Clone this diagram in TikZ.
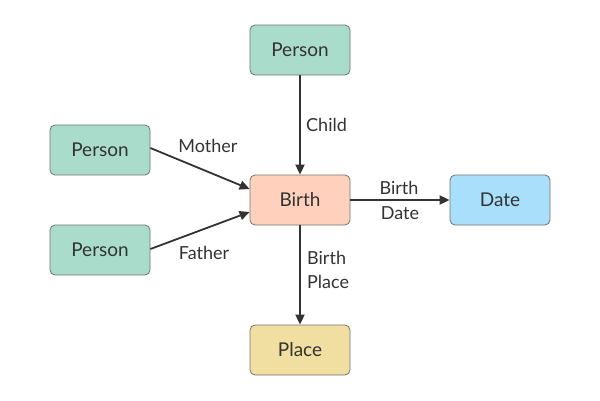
\documentclass[tikz,border=0pt]{standalone}
\usepackage{fontspec}
\setmainfont{Lato}
\usetikzlibrary{arrows.meta}
\definecolor{pgreen}{HTML}{AADCCB}
\definecolor{pbirth}{HTML}{FFD1BD}
\definecolor{pdate}{HTML}{A9DFFA}
\definecolor{pplace}{HTML}{F0DFA0}
\definecolor{edgec}{HTML}{333333}
\definecolor{txt}{HTML}{333333}
\tikzset{
  box/.style={draw=black!55, line width=0.8pt, rounded corners=5pt, minimum width=100pt, minimum height=50pt, inner sep=0pt, text=txt, font=\fontsize{19}{22}\selectfont},
  conn/.style={draw=edgec, line width=1.8pt, -{Triangle[length=10pt,width=9pt]}},
  lbl/.style={text=txt, font=\fontsize{18}{24}\selectfont, inner sep=0pt}
}
\begin{document}
\begin{tikzpicture}[x=1pt,y=-1pt]
\useasboundingbox (0,0) rectangle (600,400);
\node[box, fill=pgreen] (ptop) at (300,50) {Person};
\node[box, fill=pgreen] (pmom) at (100,150) {Person};
\node[box, fill=pgreen] (pdad) at (100,250) {Person};
\node[box, fill=pbirth] (birth) at (300,200) {Birth};
\node[box, fill=pdate] (date) at (500,200) {Date};
\node[box, fill=pplace] (place) at (300,350) {Place};
\draw[conn] (ptop.south) -- (birth.north);
\draw[conn] ([yshift=2pt]pmom.east) -- ([yshift=11pt]birth.west);
\draw[conn] ([yshift=1pt]pdad.east) -- ([yshift=-12pt]birth.west);
\draw[conn] (birth.east) -- (date.west);
\draw[conn] (birth.south) -- (place.north);
\node[lbl, anchor=west] (lchild) at (306,125) {Child};
\node[lbl] (lmother) at (208,146) {Mother};
\node[lbl] (lfather) at (204,253) {Father};
\node[lbl] (lbd1) at (399,188) {Birth};
\node[lbl] (lbd2) at (400,213) {Date};
\node[lbl, anchor=west] (lbp1) at (307,258) {Birth};
\node[lbl, anchor=west] (lbp2) at (307,282) {Place};
\end{tikzpicture}
\end{document}
